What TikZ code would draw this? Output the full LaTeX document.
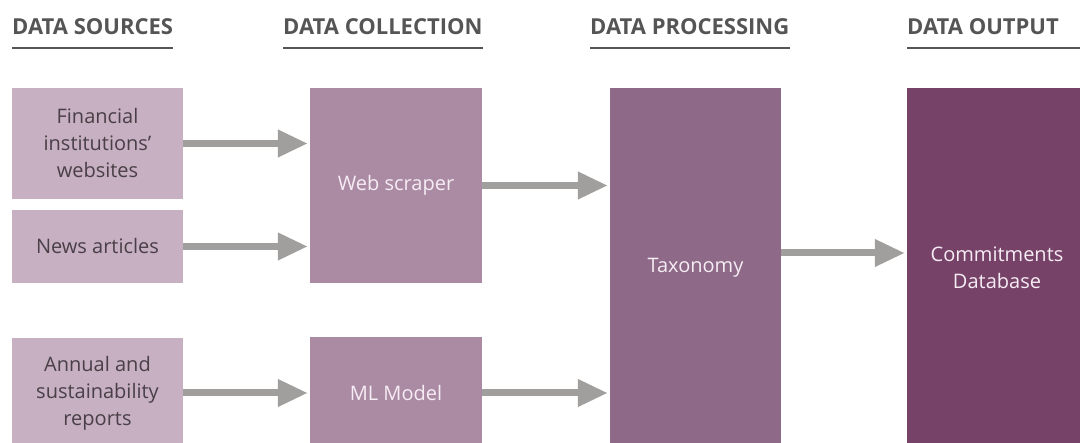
\documentclass[tikz,border=0pt]{standalone}
\usepackage{fontspec}
\setmainfont{Open Sans}
\usetikzlibrary{arrows.meta,calc}
\definecolor{srcfill}{HTML}{C6B0C2}
\definecolor{colfill}{HTML}{AB8BA4}
\definecolor{procfill}{HTML}{8E6A88}
\definecolor{outfill}{HTML}{764268}
\definecolor{srctext}{HTML}{4A3F47}
\definecolor{lighttext}{HTML}{F6ECF4}
\definecolor{headtext}{HTML}{555555}
\definecolor{flow}{HTML}{A19F9D}
\tikzset{
  heading/.style={anchor=base west, inner sep=0pt, text=headtext,
    font=\fontsize{22}{26}\selectfont\bfseries},
  headrule/.style={draw=headtext, line width=2pt},
  box/.style={rectangle, inner sep=0pt, align=center,
    font=\fontsize{20}{27}\selectfont},
  srcbox/.style={box, fill=srcfill, text=srctext},
  colbox/.style={box, fill=colfill, text=lighttext},
  procbox/.style={box, fill=procfill, text=lighttext},
  outbox/.style={box, fill=outfill, text=lighttext},
  flowarrow/.style={draw=flow, line width=7pt,
    -{Triangle[length=30pt,width=26pt]}, shorten >=2pt}
}
\begin{document}
\begin{tikzpicture}[x=1pt,y=-1pt]
\useasboundingbox (0,0) rectangle (1080,443);

% column headings
\node[heading] (h1) at (12,35) {DATA SOURCES};
\node[heading] (h2) at (283,35) {DATA COLLECTION};
\node[heading] (h3) at (590,35) {DATA PROCESSING};
\node[heading] (h4) at (907,35) {DATA OUTPUT};
\foreach \h in {h1,h2,h3} {
  \draw[headrule] ($(\h.base west)+(0,13)$) -- ($(\h.base east)+(0,13)$);
}
\draw[headrule] ($(h4.base west)+(0,13)$) -- (1080,48);

% data sources
\node[srcbox, minimum width=171pt, minimum height=111pt] (fin) at (97.5,143.5)
  {Financial\\institutions'\\websites};
\node[srcbox, minimum width=171pt, minimum height=73pt] (news) at (97.5,246.5)
  {News articles};
\node[srcbox, minimum width=171pt, minimum height=110pt] (annual) at (97.5,393)
  {Annual and\\sustainability\\reports};

% data collection
\node[colbox, minimum width=172pt, minimum height=195pt] (web) at (396,185.5)
  {Web scraper};
\node[colbox, minimum width=172pt, minimum height=112pt] (ml) at (396,393)
  {ML Model};

% data processing
\node[procbox, minimum width=171pt, minimum height=360pt] (tax) at (695.5,268)
  {Taxonomy};

% data output
\node[outbox, minimum width=180pt, minimum height=360pt] (db) at (997,268)
  {Commitments\\Database};

% flow arrows
\draw[flowarrow] (fin.east) -- (fin.east -| web.west);
\draw[flowarrow] (news.east) -- (news.east -| web.west);
\draw[flowarrow] (annual.east) -- (annual.east -| ml.west);
\draw[flowarrow] (web.east) -- (web.east -| tax.west);
\draw[flowarrow] (ml.east) -- (ml.east -| tax.west);
\draw[flowarrow] ([yshift=15pt]tax.east) -- ([yshift=15pt]tax.east -| db.west);
\end{tikzpicture}
\end{document}
